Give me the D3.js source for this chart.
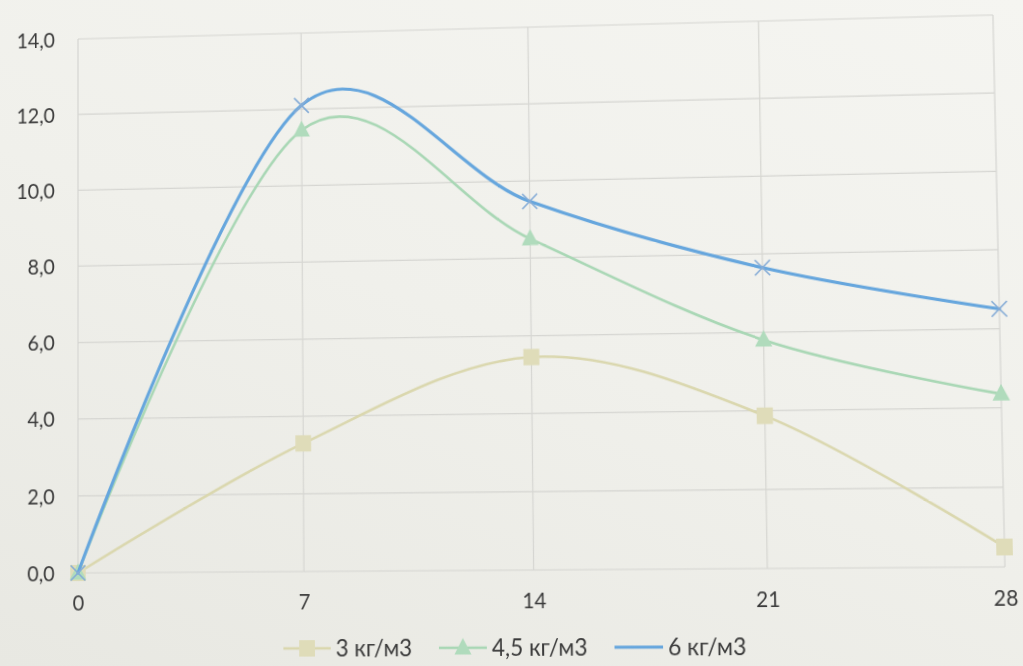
<!DOCTYPE html>
<html>
<head>
<meta charset="utf-8">
<script src="https://cdn.jsdelivr.net/npm/d3@7"></script>
<style>
  html, body { margin: 0; padding: 0; }
  body {
    width: 1023px; height: 666px; overflow: hidden;
    background: linear-gradient(200deg, #f5f5f1 0%, #f0f0eb 50%, #e8e8e2 100%);
  }
  #chart { position: absolute; left: 0; top: 0; transform-origin: 0 0; }
  text { font-family: Lato, "Noto Sans", "Open Sans", sans-serif; fill: #3b3b3b; }
</style>
</head>
<body>
<svg id="chart" width="1023" height="666"></svg>
<script>
// Days of curing
const days = [0, 7, 14, 21, 28];
// Series values, one array per dosage
const seriesNames = ["3 кг/м3", "4,5 кг/м3", "6 кг/м3"];
const values3 = [0, 3.3, 5.45, 3.87, 0.5];
const values45 = [0, 11.45, 8.5, 5.8, 4.35];
const values6 = [0, 12.1, 9.47, 7.65, 6.5];
// Axis ticks
const yTicks = [0, 2, 4, 6, 8, 10, 12, 14];
const xTicks = [0, 7, 14, 21, 28];

const svg = d3.select("#chart");
const plotL = 78, plotR = 1003, plotT = 40, plotB = 573;
const fontSize = 20.5;
const legendFontSize = 22.5;

const x = d3.scaleLinear().domain([0, 28]).range([plotL, plotR]);
const y = d3.scaleLinear().domain([0, 14]).range([plotB, plotT]);
const fmt = v => v.toFixed(1).replace(".", ",");

// Gridlines
const grid = svg.append("g").attr("stroke", "#d6d6d2").attr("stroke-width", 1.2);
grid.selectAll("line.h").data(yTicks).join("line").attr("class", "h")
  .attr("x1", plotL).attr("x2", plotR)
  .attr("y1", d => y(d)).attr("y2", d => y(d));
grid.selectAll("line.v").data(xTicks).join("line").attr("class", "v")
  .attr("x1", d => x(d)).attr("x2", d => x(d))
  .attr("y1", plotT).attr("y2", plotB);

// Axes built with d3 axis generators, domain and ticks hidden
const yAxis = svg.append("g").attr("transform", `translate(${plotL - 21},0)`)
  .call(d3.axisLeft(y).tickValues(yTicks).tickFormat(fmt).tickSize(0));
yAxis.select(".domain").remove();
yAxis.selectAll("text").attr("font-size", fontSize).attr("dy", "0.35em");

const xAxis = svg.append("g").attr("transform", `translate(0,${plotB + 20})`)
  .call(d3.axisBottom(x).tickValues(xTicks).tickFormat(d3.format("d")).tickSize(0));
xAxis.select(".domain").remove();
xAxis.selectAll("text").attr("font-size", fontSize).attr("dy", "0.7em");

const series = [
  { name: seriesNames[0], values: values3, color: "#dad7ae", marker: "square", width: 2.6 },
  { name: seriesNames[1], values: values45, color: "#a9d7b5", marker: "triangle", width: 2.6 },
  { name: seriesNames[2], values: values6, color: "#66a6dd", marker: "x", width: 3.2 }
];
const markerColors = { square: "#dfdcb9", triangle: "#b0dbbc", x: "#86acd6" };

const line = d3.line().x(d => x(d[0])).y(d => y(d[1])).curve(d3.curveCardinal.tension(0));

function drawMarker(g, type, cx, cy, scale = 1) {
  if (type === "square") {
    const s = 16 * scale;
    g.append("rect").attr("x", cx - s / 2).attr("y", cy - s / 2)
      .attr("width", s).attr("height", s).attr("fill", markerColors.square);
  } else if (type === "triangle") {
    const w = 17 * scale, h = 16 * scale;
    g.append("path")
      .attr("d", `M${cx},${cy - h * 0.6}L${cx + w / 2},${cy + h * 0.4}L${cx - w / 2},${cy + h * 0.4}Z`)
      .attr("fill", markerColors.triangle);
  } else {
    const r = 7.5 * scale;
    g.append("path")
      .attr("d", `M${cx - r},${cy - r}L${cx + r},${cy + r}M${cx - r},${cy + r}L${cx + r},${cy - r}`)
      .attr("stroke", markerColors.x).attr("stroke-width", 1.6).attr("fill", "none");
  }
}

series.forEach(s => {
  const pts = days.map((d, i) => [d, s.values[i]]);
  const g = svg.append("g");
  g.append("path").attr("d", line(pts)).attr("fill", "none")
    .attr("stroke", s.color).attr("stroke-width", s.width).attr("stroke-linecap", "round");
  pts.forEach(p => drawMarker(g, s.marker, x(p[0]), y(p[1])));
});

// Legend
const legendY = 648;
const legendX = [288, 445, 620];
series.forEach((s, i) => {
  const g = svg.append("g");
  const x0 = legendX[i];
  g.append("line").attr("x1", x0).attr("x2", x0 + 48).attr("y1", legendY).attr("y2", legendY)
    .attr("stroke", s.color).attr("stroke-width", s.width);
  if (s.marker !== "x") drawMarker(g, s.marker, x0 + 24, legendY, 1);
  g.append("text").attr("x", x0 + 53).attr("y", legendY).attr("dy", "0.35em")
    .attr("font-size", legendFontSize).text(s.name);
});

// Slight perspective of the printed page: map the flat plot corners onto the tilted frame
function homography(src, dst) {
  const A = [], b = [];
  for (let i = 0; i < 4; i++) {
    const [sx, sy] = src[i], [dx, dy] = dst[i];
    A.push([sx, sy, 1, 0, 0, 0, -sx * dx, -sy * dx]); b.push(dx);
    A.push([0, 0, 0, sx, sy, 1, -sx * dy, -sy * dy]); b.push(dy);
  }
  const n = 8;
  for (let c = 0; c < n; c++) {
    let p = c;
    for (let r = c + 1; r < n; r++) if (Math.abs(A[r][c]) > Math.abs(A[p][c])) p = r;
    [A[c], A[p]] = [A[p], A[c]]; [b[c], b[p]] = [b[p], b[c]];
    for (let r = c + 1; r < n; r++) {
      const f = A[r][c] / A[c][c];
      for (let k = c; k < n; k++) A[r][k] -= f * A[c][k];
      b[r] -= f * b[c];
    }
  }
  const h = new Array(n);
  for (let r = n - 1; r >= 0; r--) {
    let s = b[r];
    for (let k = r + 1; k < n; k++) s -= A[r][k] * h[k];
    h[r] = s / A[r][r];
  }
  return h;
}
const H = homography(
  [[plotL, plotT], [plotR, plotT], [plotL, plotB], [plotR, plotB]],
  [[78, 39], [993, 15], [78, 573], [1005, 567]]
);
const [m0, m1, m2, m3, m4, m5, m6, m7] = H;
document.getElementById("chart").style.transform =
  `matrix3d(${m0},${m3},0,${m6},${m1},${m4},0,${m7},0,0,1,0,${m2},${m5},0,1)`;
</script>
</body>
</html>
